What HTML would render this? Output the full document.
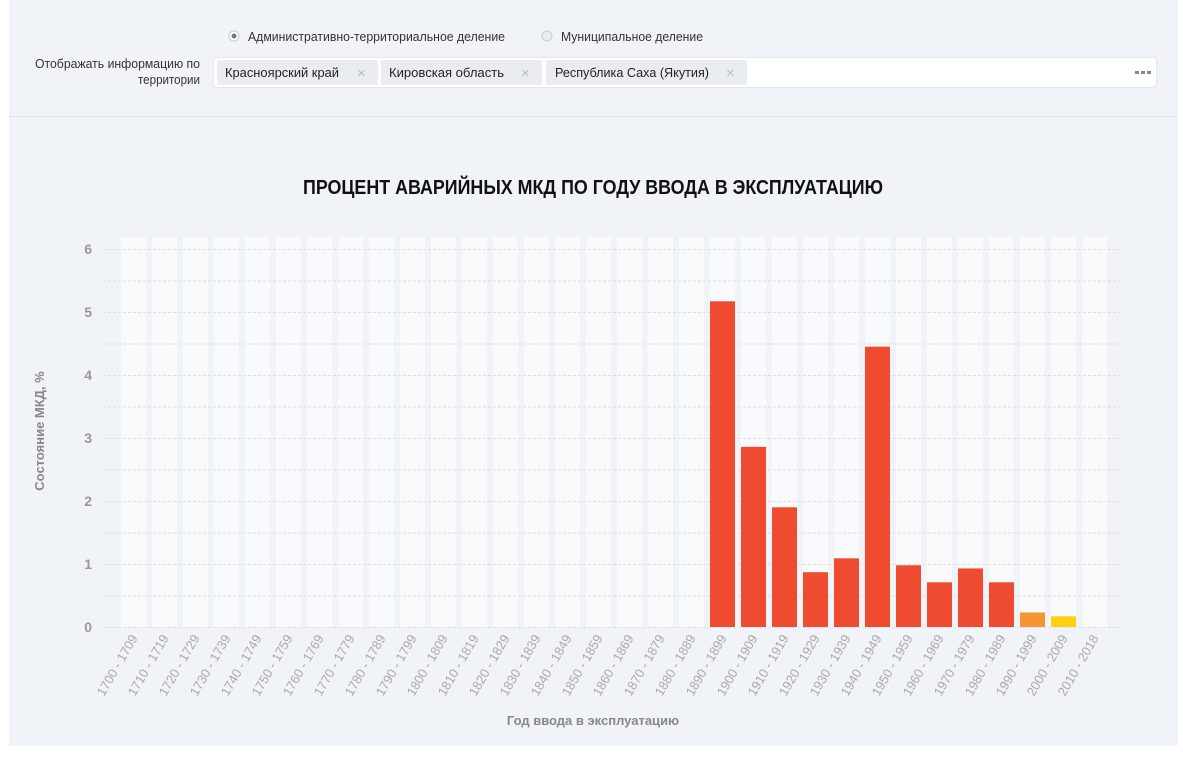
<!DOCTYPE html>
<html><head><meta charset="utf-8"><style>
body{margin:0;background:#fff;width:1183px;height:759px;overflow:hidden;font-family:"Liberation Sans",sans-serif;}
</style></head><body>
<svg width="1183" height="759" xmlns="http://www.w3.org/2000/svg" font-family="Liberation Sans, sans-serif">
<rect x="9" y="0" width="1169" height="746" fill="#f0f3f7"/>
<line x1="9" y1="116.5" x2="1178" y2="116.5" stroke="#e2e6ea"/>
<circle cx="234" cy="36" r="5" fill="#fff" stroke="#c8ccd0"/><circle cx="234" cy="36" r="2.5" fill="#777"/>
<text x="248" y="41" font-size="13" fill="#333" textLength="257" lengthAdjust="spacingAndGlyphs">Административно-территориальное деление</text>
<circle cx="547" cy="36" r="5" fill="#e9ecef" stroke="#c8ccd0"/>
<text x="561" y="41" font-size="13" fill="#333" textLength="142" lengthAdjust="spacingAndGlyphs">Муниципальное деление</text>
<text x="200" y="68" font-size="13" fill="#333" text-anchor="end" textLength="165" lengthAdjust="spacingAndGlyphs">Отображать информацию по</text>
<text x="200" y="84" font-size="13" fill="#333" text-anchor="end" textLength="62" lengthAdjust="spacingAndGlyphs">территории</text>
<rect x="213.5" y="57.5" width="943" height="30" rx="3" fill="#fff" stroke="#e3e6ea"/>
<rect x="217" y="60" width="161" height="25" rx="2" fill="#e9edf2"/>
<text x="225" y="77" font-size="13" fill="#222" textLength="114" lengthAdjust="spacingAndGlyphs">Красноярский край</text>
<text x="357" y="78" font-size="15" fill="#bbb">×</text>
<rect x="381" y="60" width="161" height="25" rx="2" fill="#e9edf2"/>
<text x="389" y="77" font-size="13" fill="#222" textLength="115" lengthAdjust="spacingAndGlyphs">Кировская область</text>
<text x="521" y="78" font-size="15" fill="#bbb">×</text>
<rect x="546" y="60" width="201" height="25" rx="2" fill="#e9edf2"/>
<text x="555" y="77" font-size="13" fill="#222" textLength="154" lengthAdjust="spacingAndGlyphs">Республика Саха (Якутия)</text>
<text x="726" y="78" font-size="15" fill="#bbb">×</text>
<rect x="1135" y="71" width="4" height="3" fill="#888"/><rect x="1141" y="71" width="4" height="3" fill="#888"/><rect x="1147" y="71" width="4" height="3" fill="#888"/>
<text x="593" y="194" font-size="20" font-weight="bold" fill="#111" text-anchor="middle" textLength="580" lengthAdjust="spacingAndGlyphs">ПРОЦЕНТ АВАРИЙНЫХ МКД ПО ГОДУ ВВОДА В ЭКСПЛУАТАЦИЮ</text>
<g id="cols" fill="#f8fafc"></g>
<g id="grid" stroke="#dcdfe3" stroke-dasharray="3,2"></g>
<g id="bars"></g>
<g id="yl" font-size="14" font-weight="bold" fill="#999" text-anchor="end"></g>
<g id="xl" font-size="13" fill="#aaa" text-anchor="end"></g>
<text transform="translate(44,431) rotate(-90)" font-size="13" font-weight="bold" fill="#888" text-anchor="middle">Состояние МКД, %</text>
<text x="593" y="725" font-size="13" font-weight="bold" fill="#888" text-anchor="middle">Год ввода в эксплуатацию</text>
</svg>
<script>
var ns="http://www.w3.org/2000/svg";
function el(p,t,a,txt){var e=document.createElementNS(ns,t);for(var k in a)e.setAttribute(k,a[k]);if(txt!==undefined)e.textContent=String(txt);document.getElementById(p).appendChild(e);}
var vals={19:5.17,20:2.86,21:1.9,22:0.87,23:1.09,24:4.45,25:0.98,26:0.71,27:0.93,28:0.71,29:0.23,30:0.17};
for(var i=0;i<32;i++){var x=121+i*31;el("cols","rect",{x:x,y:237,width:25,height:390});
var s=1700+i*10,e=(i==31?2018:s+9);
el("xl","text",{transform:"translate("+(x+17)+",638) rotate(-60)",textLength:68,lengthAdjust:"spacingAndGlyphs"},s+" - "+e);
if(vals[i]){var v=vals[i],h=v*63;var c=i==29?"#f39530":i==30?"#fdd10f":"#ef4b30";el("bars","rect",{x:x,y:627-h,width:25,height:h,fill:c});}}
for(var j=0;j<=12;j++){var y=627-j*31.5;el("grid","line",{x1:103,x2:1122,y1:y+0.5,y2:y+0.5});if(j%2==0)el("yl","text",{x:92,y:y+5},j/2);}
</script>
</body></html>
